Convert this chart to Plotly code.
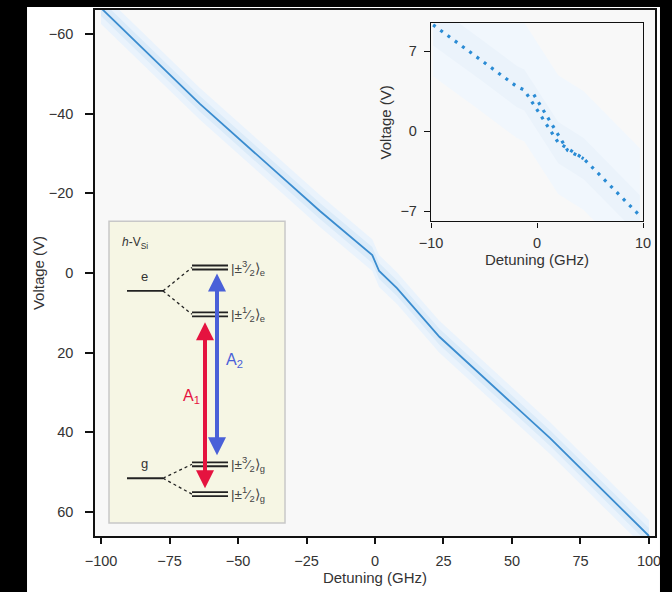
import plotly.graph_objects as go

# ---------------- data ----------------
main_detuning = [-100, -64, -20, -1, 1.5, 8, 23.5, 64, 100]
main_voltage = [-66.5, -42.5, -15.5, -4.5, -0.5, 3.8, 16, 41.5, 66]

inset_detuning_a = [-9.8, -5.5, -1.9, -1.2, 2.0, 4.4, 9.7]
inset_voltage_a = [9.3, 6.4, 3.9, 3.6, -1.0, -2.4, -7.4]
inset_detuning_b = [-0.3, 2.9, 4.4]
inset_voltage_b = [3.2, -1.7, -2.4]

main_xticks = [-100, -75, -50, -25, 0, 25, 50, 75, 100]
main_yticks = [-60, -40, -20, 0, 20, 40, 60]
inset_xticks = [-10, 0, 10]
inset_yticks = [-7, 0, 7]

# level scheme (diagram units = pixels inside the box)
level_e = 290
level_g = 478
sub_e = [266.5, 313.5]
sub_g = [464, 494]
sub_labels_e = ["|±<sup>3</sup>⁄<sub>2</sub>⟩<sub>e</sub>", "|±<sup>1</sup>⁄<sub>2</sub>⟩<sub>e</sub>"]
sub_labels_g = ["|±<sup>3</sup>⁄<sub>2</sub>⟩<sub>g</sub>", "|±<sup>1</sup>⁄<sub>2</sub>⟩<sub>g</sub>"]

FONT = "Liberation Sans, Arial, sans-serif"
TXT = "#333333"


def band(xs, ys, w):
    px = list(xs) + list(xs)[::-1]
    py = [v - w for v in ys] + [v + w for v in ys][::-1]
    return px, py


fig = go.Figure()

# main chart bands + line
for w, col in [(4.0, "#eaf3fc"), (2.0, "#dbebf9")]:
    bx, by = band(main_detuning, main_voltage, w)
    fig.add_trace(go.Scatter(x=bx, y=by, fill="toself", fillcolor=col, mode="none",
                             showlegend=False, hoverinfo="skip", xaxis="x", yaxis="y"))
fig.add_trace(go.Scatter(x=main_detuning, y=main_voltage, mode="lines",
                         line=dict(color="#3a8ccf", width=1.8), showlegend=False,
                         xaxis="x", yaxis="y"))

# inset bands + dotted lines
inset_lo = [v - 4.5 for v in inset_voltage_a]
inset_hi = [v + 5.9 for v in inset_voltage_a]
fig.add_trace(go.Scatter(x=list(inset_detuning_a) + list(inset_detuning_a)[::-1],
                         y=inset_lo + inset_hi[::-1], fill="toself", fillcolor="#f1f7fd",
                         mode="none", showlegend=False, hoverinfo="skip", xaxis="x2", yaxis="y2"))
bx, by = band(inset_detuning_a, inset_voltage_a, 1.8)
fig.add_trace(go.Scatter(x=bx, y=by, fill="toself", fillcolor="#ebf3fb", mode="none",
                         showlegend=False, hoverinfo="skip", xaxis="x2", yaxis="y2"))
for xs, ys in [(inset_detuning_a, inset_voltage_a), (inset_detuning_b, inset_voltage_b)]:
    fig.add_trace(go.Scatter(x=xs, y=ys, mode="lines",
                             line=dict(color="#2a8bd4", width=3.2, dash="3px,6px"),
                             showlegend=False, xaxis="x2", yaxis="y2"))

# dummy trace for the diagram axes
fig.add_trace(go.Scatter(x=[None], y=[None], xaxis="x3", yaxis="y3", showlegend=False,
                         hoverinfo="skip"))

shapes = []
annotations = []

# black frame around the page
for x0, x1, y0, y1 in [(-1, -0.1214, -1, 2), (-1, 2, 1.0057, 2), (1.0089, 2, -1, 2)]:
    shapes.append(dict(type="rect", xref="paper", yref="paper", x0=x0, x1=x1, y0=y0, y1=y1,
                       fillcolor="black", line=dict(width=0), layer="above"))

# inset white background
shapes.append(dict(type="rect", xref="x2 domain", yref="y2 domain", x0=0, x1=1, y0=0, y1=1,
                   fillcolor="white", line=dict(width=0), layer="below"))

# diagram box
shapes.append(dict(type="rect", xref="x3 domain", yref="y3 domain", x0=0, x1=1, y0=0, y1=1,
                   fillcolor="#f6f6e4", line=dict(color="#c8c8c8", width=1.5), layer="above"))

def dline(x0, y0, x1, y1, **kw):
    d = dict(type="line", xref="x3", yref="y3", x0=x0, y0=y0, x1=x1, y1=y1, layer="above",
             line=dict(color="#222222", width=kw.get("width", 1.6), dash=kw.get("dash", "solid")))
    shapes.append(d)

for lev, subs in [(level_e, sub_e), (level_g, sub_g)]:
    dline(127, lev, 163, lev, width=1.8)
    for s in subs:
        dline(163, lev, 192, s, dash="3px,3px", width=1.3)
        dline(192, s - 2, 228, s - 2, width=1.8)
        dline(192, s + 2, 228, s + 2, width=1.8)

for lab, lev in [("e", level_e), ("g", level_g)]:
    annotations.append(dict(xref="x3", yref="y3", x=144, y=lev - 5, text=lab, showarrow=False,
                            font=dict(family=FONT, size=13, color=TXT), yanchor="bottom"))
for s, lab in zip(sub_e + sub_g, sub_labels_e + sub_labels_g):
    annotations.append(dict(xref="x3", yref="y3", x=229, y=s, text=lab, showarrow=False,
                            xanchor="left", font=dict(family=FONT, size=13.5, color="#444444")))

annotations.append(dict(xref="x3", yref="y3", x=120, y=242, text="<i>h</i>-V<sub>Si</sub>",
                        showarrow=False, xanchor="left",
                        font=dict(family=FONT, size=12, color=TXT)))

# transition arrows
RED = "#e5133f"
BLUE = "#4a60d8"
for x, y0, y1, col in [(205, 320, 488, RED), (217, 271, 455, BLUE)]:
    annotations.append(dict(xref="x3", yref="y3", axref="x3", ayref="y3", x=x, y=y1, ax=x, ay=y0,
                            text="", showarrow=True, arrowside="end+start", arrowhead=2,
                            startarrowhead=2, arrowsize=0.9, startarrowsize=0.9,
                            arrowwidth=4, arrowcolor=col))
annotations.append(dict(xref="x3", yref="y3", x=191, y=396, text="A<sub>1</sub>", showarrow=False,
                        font=dict(family=FONT, size=16, color=RED)))
annotations.append(dict(xref="x3", yref="y3", x=234, y=360, text="A<sub>2</sub>", showarrow=False,
                        font=dict(family=FONT, size=16, color=BLUE)))

axis_common = dict(showline=True, mirror=True, linecolor="#111111", ticks="outside",
                   tickcolor="#111111", showgrid=False, zeroline=False,
                   tickfont=dict(family=FONT, size=14.5, color=TXT))
TFONT = dict(family=FONT, size=15, color=TXT)

fig.update_layout(
    width=672, height=592,
    margin=dict(l=95, r=17, t=8, b=56),
    paper_bgcolor="white", plot_bgcolor="#f8f8f8",
    font=dict(family=FONT, color=TXT),
    xaxis=dict(axis_common, range=[-102.2, 102.2], tickvals=main_xticks, linewidth=1.5,
               tickwidth=1.5, ticklen=6, domain=[0, 1], anchor="y", ticklabelstandoff=5,
               title=dict(text="Detuning (GHz)", font=TFONT, standoff=4)),
    yaxis=dict(axis_common, range=[66, -66], tickvals=main_yticks, linewidth=1.5,
               tickwidth=1.5, ticklen=8, domain=[0, 1], anchor="x", ticklabelstandoff=9,
               title=dict(text="Voltage (V)", font=TFONT, standoff=0)),
    xaxis2=dict(axis_common, range=[-10, 10], tickvals=inset_xticks, linewidth=1.3,
                tickwidth=1.3, ticklen=5, domain=[0.6, 0.9786], anchor="y2",
                ticklabelstandoff=3,
                title=dict(text="Detuning (GHz)", font=TFONT, standoff=1)),
    yaxis2=dict(axis_common, range=[-7.9, 9.45], tickvals=inset_yticks, linewidth=1.3,
                tickwidth=1.3, ticklen=6, domain=[0.598, 0.975], anchor="x2",
                ticklabelstandoff=4,
                title=dict(text="Voltage (V)", font=TFONT, standoff=5)),
    xaxis3=dict(range=[109, 285], domain=[0.025, 0.3393], anchor="y3", visible=False),
    yaxis3=dict(range=[523, 220], domain=[0.0246, 0.5985], anchor="x3", visible=False),
    shapes=shapes,
    annotations=annotations,
)

fig.write_html("out.html")
